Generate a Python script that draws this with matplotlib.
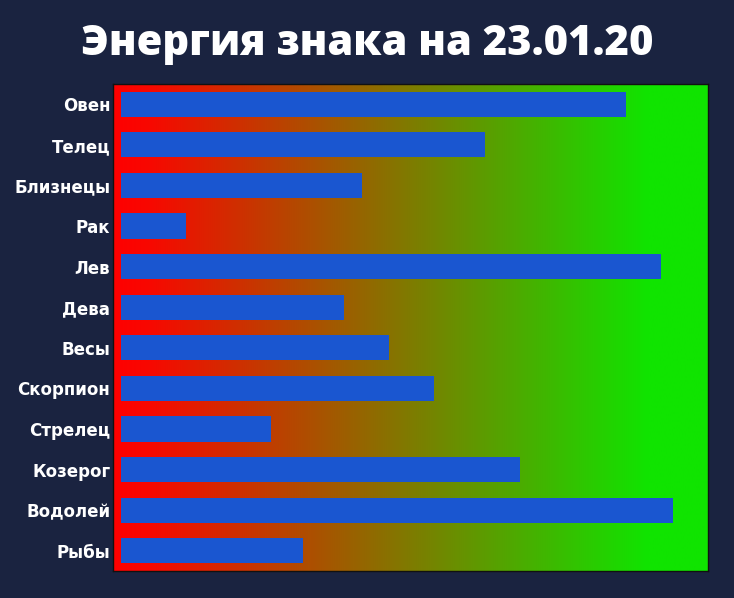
import numpy as np
import matplotlib
matplotlib.use("Agg")
import matplotlib.pyplot as plt
from matplotlib.colors import LinearSegmentedColormap

signs = ["Овен", "Телец", "Близнецы", "Рак", "Лев", "Дева", "Весы",
         "Скорпион", "Стрелец", "Козерог", "Водолей", "Рыбы"]
energy = [86, 62, 41, 11, 92, 38, 45.7, 53.3, 25.6, 68, 94, 31]
title = "Энергия знака на 23.01.20"

fig = plt.figure(figsize=(7.34, 5.98), dpi=100)
fig.patch.set_facecolor("#1a2340")

ax = fig.add_axes([0.154, 0.0452, 0.8106, 0.8143])
xmin, xmax = -1.4, 100
y = np.arange(len(signs))

cmap = LinearSegmentedColormap.from_list("rg", [(0.0, "#ff0000"), (0.06, "#f80800"),
                                                (0.9, "#10e400"), (1.0, "#10e400")])
grad = np.linspace(0, 1, 256).reshape(1, -1)
ax.imshow(grad, cmap=cmap, aspect="auto", extent=(xmin, xmax, len(signs) - 0.5, -0.5),
          zorder=0, interpolation="bilinear")

ax.barh(y, energy, height=0.62, color="#1a56d0", zorder=2)
ax.set_xlim(xmin, xmax)
ax.set_ylim(len(signs) - 0.5, -0.5)
ax.set_yticks(y)
ax.set_yticklabels(signs, color="white", fontsize=12, fontweight="bold",
                   family=["DejaVu Sans"])
ax.set_xticks([])
ax.tick_params(axis="y", length=0, pad=2)
for s in ax.spines.values():
    s.set_color("#111111")
    s.set_linewidth(1)

fig.text(0.5, 0.908, title, ha="center", va="baseline", color="white",
         fontsize=30, fontweight=800, family=["Open Sans", "DejaVu Sans"])

fig.savefig("out.png", dpi=100, facecolor=fig.get_facecolor())
